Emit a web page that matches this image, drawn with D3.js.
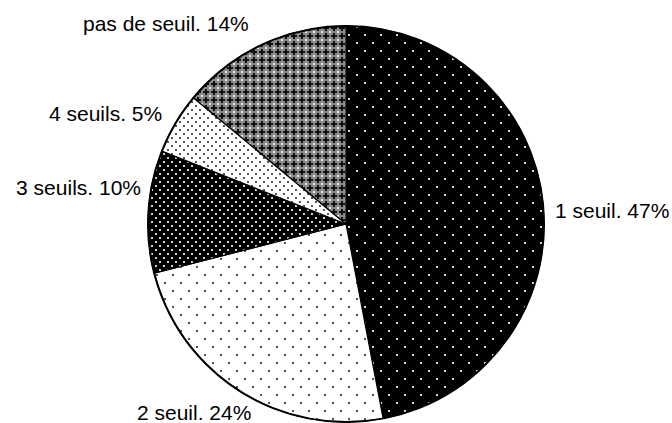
<!DOCTYPE html>
<html>
<head>
<meta charset="utf-8">
<script src="https://cdn.jsdelivr.net/npm/d3@7"></script>
<style>
  html, body { margin: 0; padding: 0; background: #fff; }
  svg { display: block; }
</style>
</head>
<body>
<svg id="chart" width="672" height="423"></svg>
<script>
// ---- data ----
const categories = ["1 seuil", "2 seuil", "3 seuils", "4 seuils", "pas de seuil"];
const values = [47, 24, 10, 5, 14];
const labels = ["1 seuil. 47%", "2 seuil. 24%", "3 seuils. 10%", "4 seuils. 5%", "pas de seuil. 14%"];

// ---- layout (presentation only) ----
const W = 672, H = 423;
const cx = 346, cy = 224, R = 198;
const labelLayout = [
  { x: 555, y: 218, anchor: "start" },
  { x: 137, y: 420, anchor: "start" },
  { x: 141, y: 195, anchor: "end" },
  { x: 49,  y: 121, anchor: "start" },
  { x: 83,  y: 31,  anchor: "start" }
];

const svg = d3.select("#chart");
const defs = svg.append("defs");

function dotPattern(id, size, bg, dot, r, offsets) {
  const p = defs.append("pattern")
    .attr("id", id).attr("patternUnits", "userSpaceOnUse")
    .attr("width", size).attr("height", size);
  p.append("rect").attr("width", size).attr("height", size).attr("fill", bg);
  offsets.forEach(([ox, oy]) => {
    p.append("rect").attr("x", ox).attr("y", oy)
      .attr("width", r).attr("height", r).attr("fill", dot);
  });
}
// sparse dots
dotPattern("p1", 16, "#000", "#d8d8d8", 2, [[2, 2], [10, 10]]);
dotPattern("p2", 16, "#fff", "#555", 2, [[2, 2], [10, 10]]);
// dense dots
dotPattern("p3", 8, "#000", "#cfcfcf", 2, [[1, 1], [5, 5]]);
dotPattern("p4", 8, "#fff", "#555", 2, [[1, 1], [5, 5]]);
// grey cross-hatch
(function () {
  const s = 8;
  const p = defs.append("pattern")
    .attr("id", "p5").attr("patternUnits", "userSpaceOnUse")
    .attr("width", s).attr("height", s);
  p.append("rect").attr("width", s).attr("height", s).attr("fill", "#8a8a8a");
  // black crosses
  p.append("rect").attr("x", 3).attr("y", 1).attr("width", 2).attr("height", 6).attr("fill", "#111");
  p.append("rect").attr("x", 1).attr("y", 3).attr("width", 6).attr("height", 2).attr("fill", "#111");
  // light squares between
  p.append("rect").attr("x", 7).attr("y", 7).attr("width", 2).attr("height", 2).attr("fill", "#e6e6e6");
  p.append("rect").attr("x", -1).attr("y", -1).attr("width", 2).attr("height", 2).attr("fill", "#e6e6e6");
  p.append("rect").attr("x", 7).attr("y", -1).attr("width", 2).attr("height", 2).attr("fill", "#e6e6e6");
  p.append("rect").attr("x", -1).attr("y", 7).attr("width", 2).attr("height", 2).attr("fill", "#e6e6e6");
})();

const fills = ["url(#p1)", "url(#p2)", "url(#p3)", "url(#p4)", "url(#p5)"];

const pie = d3.pie().sort(null).value(d => d)(values);
const arc = d3.arc().innerRadius(0).outerRadius(R);

const g = svg.append("g").attr("transform", `translate(${cx},${cy})`);
g.selectAll("path.slice").data(pie).enter().append("path")
  .attr("class", "slice")
  .attr("d", arc)
  .attr("fill", (d, i) => fills[i])
  .attr("stroke", "#000")
  .attr("stroke-width", 1.2)
  .attr("stroke-linejoin", "round");

g.append("circle").attr("r", R).attr("fill", "none")
  .attr("stroke", "#000").attr("stroke-width", 2);

svg.selectAll("text.lbl").data(labels).enter().append("text")
  .attr("class", "lbl")
  .attr("x", (d, i) => labelLayout[i].x)
  .attr("y", (d, i) => labelLayout[i].y)
  .attr("text-anchor", (d, i) => labelLayout[i].anchor)
  .attr("font-family", "'Liberation Sans', Arial, sans-serif")
  .attr("font-size", 21)
  .attr("fill", "#000")
  .text(d => d);
</script>
</body>
</html>
